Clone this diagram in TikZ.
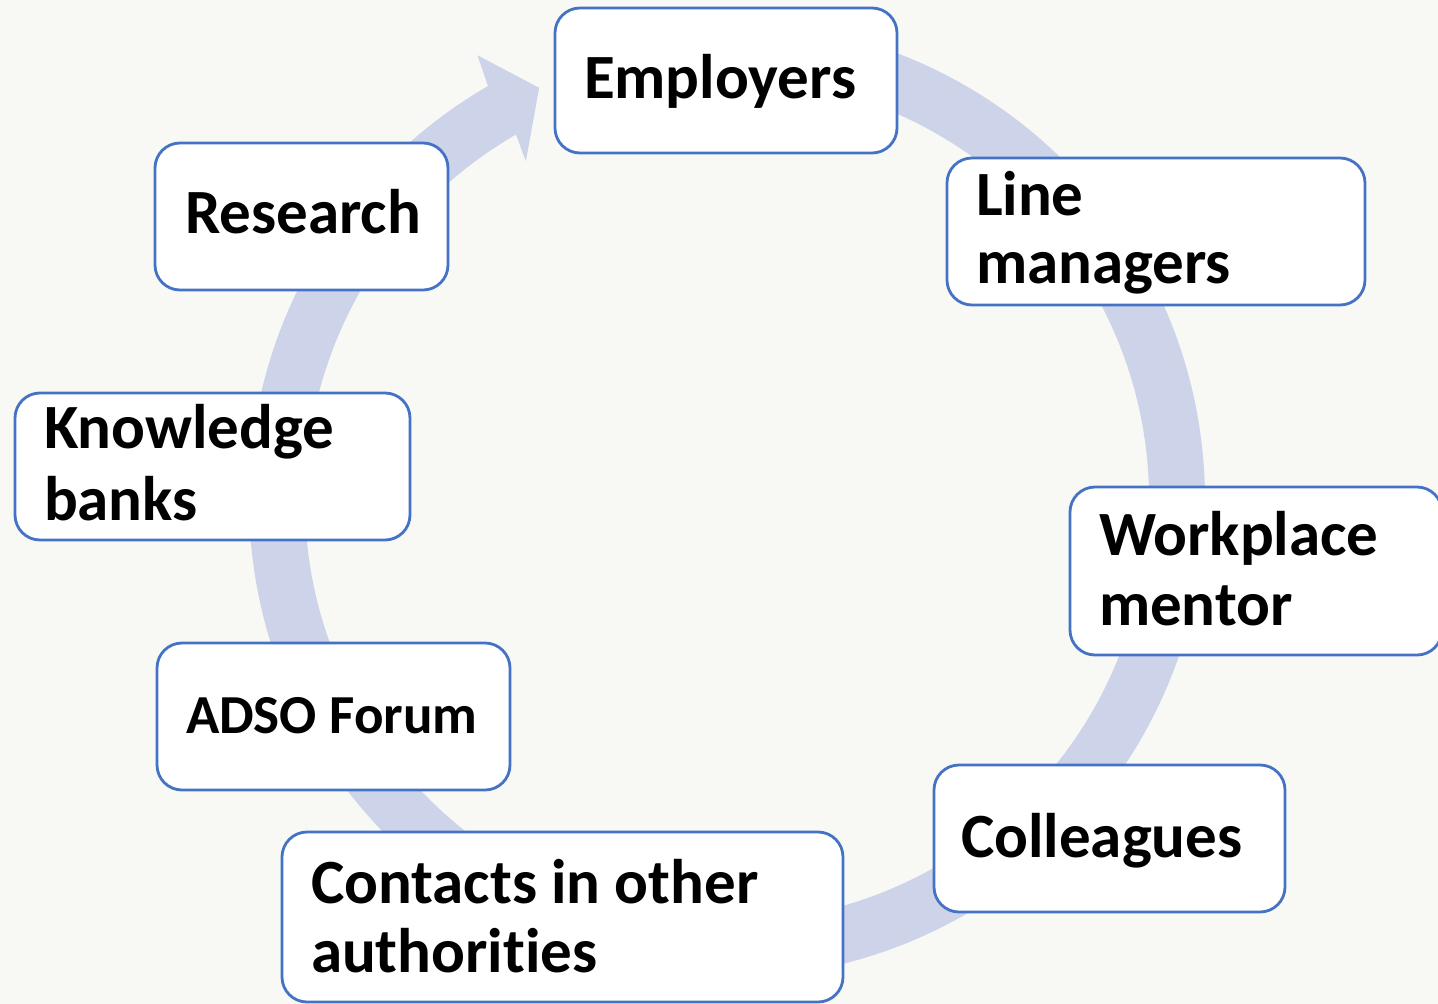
\documentclass[tikz,border=0pt]{standalone}
\usepackage{fontspec}
\setmainfont{Carlito}[RawFeature=-liga]
\definecolor{bg}{HTML}{F8F9F4}
\definecolor{ringc}{HTML}{CDD4EA}
\definecolor{boxline}{HTML}{4472C4}
\begin{document}
\begin{tikzpicture}[x=1pt,y=-1pt,
  box/.style={draw=boxline, line width=2.8pt, fill=white, rounded corners=25pt, inner sep=0pt, outer sep=0pt},
  lbl/.style={anchor=base west, inner sep=0pt, outer sep=0pt, font=\fontsize{63}{70}\selectfont\bfseries},
  lbls/.style={anchor=base west, inner sep=0pt, outer sep=0pt, font=\fontsize{55}{62}\selectfont\bfseries}]
\fill[bg] (0,0) rectangle (1438,1004);
\useasboundingbox (0,0) rectangle (1438,1004);
% ring arrow
\begin{scope}[shift={(727,500)}, y=1pt]
\fill[ringc] (95:478) arc[start angle=95, end angle=-240, radius=478]
  -- (119.3:510) -- (114.5:453) -- (120.7:394) -- (120:422)
  arc[start angle=-240, end angle=95, radius=422] -- cycle;
\end{scope}
% boxes
\node[box, minimum width=342pt, minimum height=145pt] (emp) at (726,80.5) {};
\node[box, minimum width=418pt, minimum height=147pt] (line) at (1156,231.5) {};
\node[box, minimum width=372pt, minimum height=168pt] (work) at (1256,571) {};
\node[box, minimum width=351pt, minimum height=147pt] (coll) at (1109.5,838.5) {};
\node[box, minimum width=561pt, minimum height=170pt] (cont) at (562.5,917) {};
\node[box, minimum width=353pt, minimum height=147pt] (adso) at (333.5,716.5) {};
\node[box, minimum width=395pt, minimum height=147pt] (know) at (212.5,466.5) {};
\node[box, minimum width=293pt, minimum height=147pt] (res) at (301.5,216.5) {};
% texts
\node[lbl] (empT) at (584,98) {Employers};
\node[lbl] (lineT1) at (976,215) {Line};
\node[lbl] (lineT2) at (976,283) {managers};
\node[lbl] (workT1) at (1099,555) {Workplace};
\node[lbl] (workT2) at (1099,625) {mentor};
\node[lbl] (collT) at (961,857) {Colleagues};
\node[lbl] (contT1) at (311,903) {Contacts in other};
\node[lbl] (contT2) at (311,972) {authorities};
\node[lbls] (adsoT) at (186,733) {ADSO Forum};
\node[lbl] (knowT1) at (44,448) {Knowledge};
\node[lbl] (knowT2) at (44,520) {banks};
\node[lbl] (resT) at (185,233) {Research};
\end{tikzpicture}
\end{document}
